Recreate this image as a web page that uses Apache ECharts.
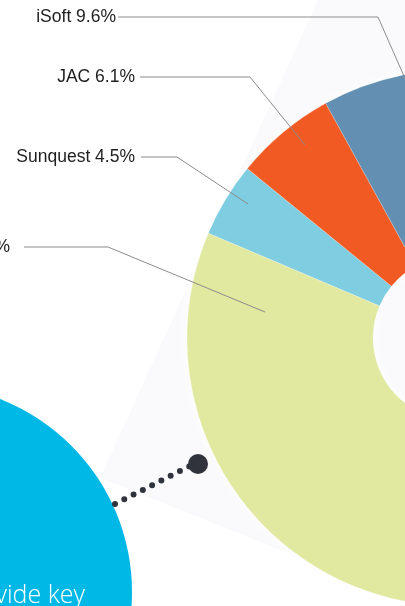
<!DOCTYPE html>
<html>
<head>
<meta charset="utf-8">
<style>
  html, body { margin: 0; padding: 0; background: #fff; }
  #chart { width: 405px; height: 606px; }
</style>
<script src="https://cdn.jsdelivr.net/npm/echarts@6/dist/echarts.min.js"></script>
</head>
<body>
<div id="chart"></div>
<script>
// market share, clockwise from the Sunquest slice
const vendors = ['Sunquest', 'JAC', 'iSoft', 'Telepath', 'Other', 'Clinisys'];
const shares = [4.5, 6.1, 9.6, 27.4, 16.4, 36.0];
const sliceColors = ['#7fcde0', '#f15b23', '#6390b2', '#4f6d8a', '#b9c2c9', '#e1e8a0'];

// where the visible labels sit (right edge, middle) and their leader lines
const labelSpots = {
  iSoft:    { x: 116, y: 17,  line: [[418, 108], [378, 17], [118, 17]] },
  JAC:      { x: 135, y: 77,  line: [[305, 145], [250, 77], [140, 77]] },
  Sunquest: { x: 135, y: 157, line: [[248, 204], [177, 157], [141, 157]] },
  Clinisys: { x: 10,  y: 247, line: [[265, 312], [108, 247], [24, 247]] }
};

const container = document.getElementById('chart');
const chart = echarts.init(container);

const ring = { center: [455, 338], radius: [82, 268], startAngle: 157, clockwise: true };

const option = {
  animation: false,
  graphic: [
    // faint beam behind the pie
    {
      type: 'polygon',
      z: 0,
      shape: { points: [[318, 0], [405, 0], [405, 600], [100, 478]] },
      style: { fill: '#fafafc' }
    },
    {
      type: 'circle',
      z: 5,
      shape: { cx: -75, cy: 592, r: 207 },
      style: { fill: '#00b8e6' }
    },
    {
      type: 'text',
      z: 6,
      x: 85,
      y: 596,
      style: {
        text: 'provide key',
        fill: '#ffffff',
        font: '300 25px "Open Sans", sans-serif',
        align: 'right',
        verticalAlign: 'middle'
      }
    },
    {
      type: 'polyline',
      z: 6,
      shape: { points: [[115, 504], [190, 466]] },
      style: { stroke: '#30333b', lineWidth: 6, lineCap: 'round', lineDash: [0, 10.4] }
    },
    {
      type: 'circle',
      z: 6,
      shape: { cx: 198, cy: 464, r: 10 },
      style: { fill: '#30333b' }
    }
  ],
  series: [
    Object.assign({
      // soft white halo round the ring
      type: 'pie',
      silent: true,
      z: 1,
      label: { show: false },
      labelLine: { show: false },
      itemStyle: { color: '#ffffff', shadowBlur: 12, shadowColor: '#ffffff' },
      data: vendors.map((name, i) => ({ name: name, value: shares[i] }))
    }, ring),
    Object.assign({
      type: 'pie',
      z: 2,
      silent: true,
      label: { show: false },
      labelLine: { show: false },
      itemStyle: { borderColor: 'rgba(255,255,255,0.35)', borderWidth: 0.6 },
      data: vendors.map((name, i) => ({
        name: name,
        value: shares[i],
        itemStyle: { color: sliceColors[i] }
      }))
    }, ring),
    Object.assign({
      // same ring, invisible, only carrying labels so leaders sit on top
      type: 'pie',
      z: 3,
      silent: true,
      avoidLabelOverlap: false,
      percentPrecision: 1,
      itemStyle: { color: 'rgba(0,0,0,0)' },
      label: {
        show: true,
        position: 'outside',
        formatter: '{b} {d}%',
        color: '#1e1e1e',
        fontFamily: '"Liberation Sans", Arial, sans-serif',
        fontSize: 17.5
      },
      labelLine: {
        show: true,
        smooth: false,
        lineStyle: { color: '#8c8c8c', width: 1 }
      },
      labelLayout: function (params) {
        const spot = labelSpots[vendors[params.dataIndex]];
        if (!spot) return {};
        return {
          x: spot.x,
          y: spot.y,
          align: 'right',
          verticalAlign: 'middle',
          labelLinePoints: spot.line
        };
      },
      data: vendors.map((name, i) => ({ name: name, value: shares[i] }))
    }, ring)
  ]
};

chart.setOption(option);
</script>
</body>
</html>
